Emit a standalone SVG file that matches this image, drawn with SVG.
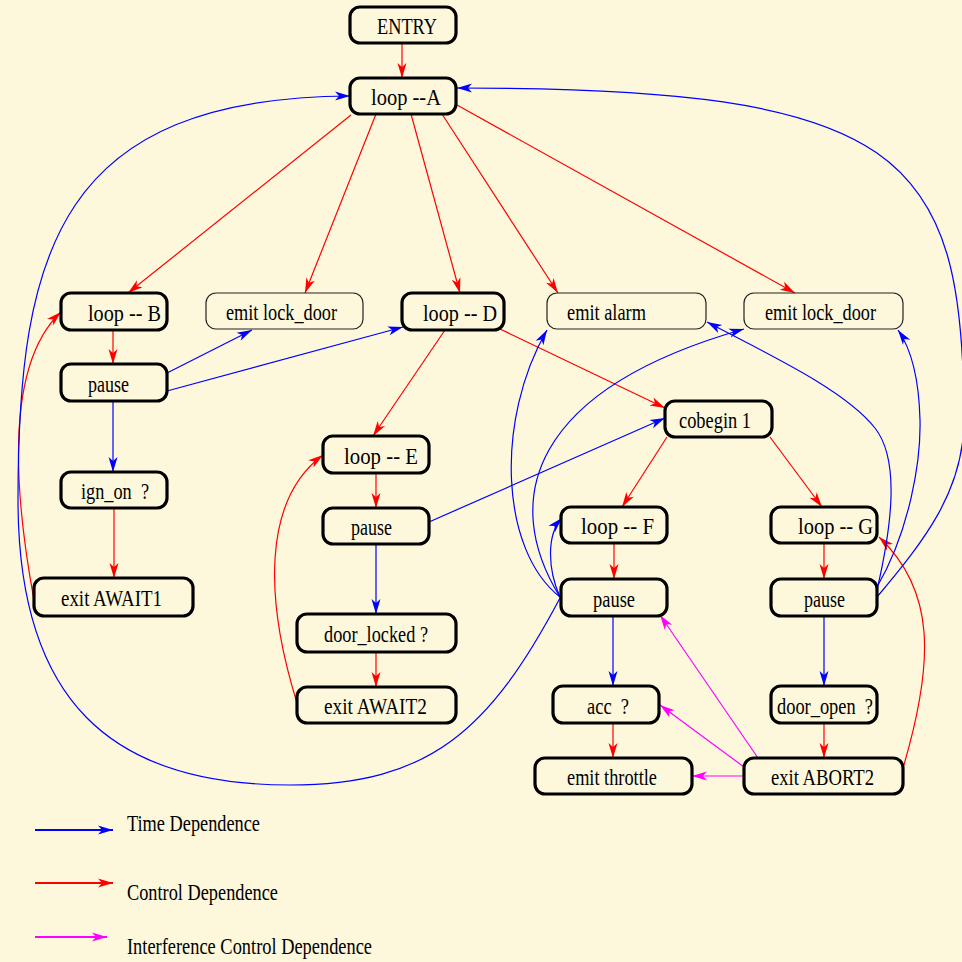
<svg xmlns="http://www.w3.org/2000/svg" width="962" height="962" viewBox="0 0 962 962">
  <style>
    .bg { fill: #fdf8dc; }
    .nd rect { fill: none; stroke: #000; stroke-width: 3.2; }
    .nd.thin rect { stroke: #222; stroke-width: 1.2; }
    text { font-family: "Liberation Serif", "Times New Roman", serif; font-size: 23px; fill: #000; }
    .nd text { text-anchor: middle; }
    .edge { fill: none; stroke-width: 1.2; }
    .time { stroke: #0000ff; marker-end: url(#ahTime); }
    .ctrl { stroke: #ff0000; marker-end: url(#ahCtrl); }
    .intf { stroke: #ff00ff; marker-end: url(#ahIntf); }
    .legend .edge { stroke-width: 1.8; }
  </style>
  <defs>
    <marker id="ahTime" viewBox="-16 -6 17 12" refX="0" refY="0" markerWidth="17" markerHeight="12" markerUnits="userSpaceOnUse" orient="auto">
      <path d="M-15,-4.5 L0,0 L-15,4.5 L-11,0 z" fill="#0000ff"/>
    </marker>
    <marker id="ahCtrl" viewBox="-16 -6 17 12" refX="0" refY="0" markerWidth="17" markerHeight="12" markerUnits="userSpaceOnUse" orient="auto">
      <path d="M-15,-4.5 L0,0 L-15,4.5 L-11,0 z" fill="#ff0000"/>
    </marker>
    <marker id="ahIntf" viewBox="-16 -6 17 12" refX="0" refY="0" markerWidth="17" markerHeight="12" markerUnits="userSpaceOnUse" orient="auto">
      <path d="M-15,-4.5 L0,0 L-15,4.5 L-11,0 z" fill="#ff00ff"/>
    </marker>
  </defs>

  <rect class="bg" x="0" y="0" width="962" height="962"/>

  <!-- connectors -->
  <g id="connectors">
    <!-- control dependence -->
    <path class="edge ctrl" d="M402,43 L402,78"/>
    <path class="edge ctrl" d="M351,115 L128,293"/>
    <path class="edge ctrl" d="M376,114 L305,293"/>
    <path class="edge ctrl" d="M411,114 L460,293"/>
    <path class="edge ctrl" d="M442,114 L558,293"/>
    <path class="edge ctrl" d="M457,105 L795,293"/>
    <path class="edge ctrl" d="M113,330 L113,364"/>
    <path class="edge ctrl" d="M114,508 L114,578"/>
    <path class="edge ctrl" d="M34,600 C10,470 10,360 61,312"/>
    <path class="edge ctrl" d="M445,330 L373,436"/>
    <path class="edge ctrl" d="M500,329 L665,408"/>
    <path class="edge ctrl" d="M376,473 L376,508"/>
    <path class="edge ctrl" d="M376,652 L376,687"/>
    <path class="edge ctrl" d="M297,703 C265,600 262,500 323,455"/>
    <path class="edge ctrl" d="M667,437 L622,507"/>
    <path class="edge ctrl" d="M770,437 L822,507"/>
    <path class="edge ctrl" d="M614,543 L614,579"/>
    <path class="edge ctrl" d="M613,723 L613,758"/>
    <path class="edge ctrl" d="M824,543 L824,579"/>
    <path class="edge ctrl" d="M824,723 L824,758"/>
    <path class="edge ctrl" d="M903,768 C935,660 935,590 879,537"/>

    <!-- time dependence -->
    <path class="edge time" d="M113,401 L113,472"/>
    <path class="edge time" d="M167,373 L252,330"/>
    <path class="edge time" d="M167,391 L403,327"/>
    <path class="edge time" d="M429,522 L665,418"/>
    <path class="edge time" d="M376,544 L376,614"/>
    <path class="edge time" d="M613,616 L613,686"/>
    <path class="edge time" d="M824,616 L824,686"/>
    <path class="edge time" d="M560,597 C548,570 546,535 562,518"/>
    <path class="edge time" d="M560,597 C500,550 495,420 547,330"/>
    <path class="edge time" d="M560,597 C500,500 530,390 744,329"/>
    <path class="edge time" d="M560,598 C490,730 430,785 290,785 C110,785 18,700 18,500 C18,250 60,98 350,96"/>
    <path class="edge time" d="M877,587 C910,530 921,460 920,420 C919,380 912,350 898,330"/>
    <path class="edge time" d="M877,590 C892,525 900,460 875,428 C845,390 770,355 707,322"/>
    <path class="edge time" d="M877,597 C925,540 964,490 964,420 C964,150 900,88 457,88"/>

    <!-- interference control dependence -->
    <path class="edge intf" d="M744,776 L692,776"/>
    <path class="edge intf" d="M744,767 L660,705"/>
    <path class="edge intf" d="M758,758 L660,615"/>
  </g>

  <!-- nodes -->
  <g id="n-entry" class="nd"><rect x="350" y="7" width="106" height="36" rx="10"/><text x="407" y="34" textLength="60" lengthAdjust="spacingAndGlyphs">ENTRY</text></g>
  <g id="n-loopA" class="nd"><rect x="350" y="78" width="106" height="36" rx="10"/><text x="406" y="105" textLength="70" lengthAdjust="spacingAndGlyphs">loop --A</text></g>
  <g id="n-loopB" class="nd"><rect x="61" y="293" width="106" height="37" rx="10"/><text x="124.5" y="320.5" textLength="73" lengthAdjust="spacingAndGlyphs">loop -- B</text></g>
  <g id="n-emitLock1" class="nd thin"><rect x="206" y="293" width="157" height="36" rx="10"/><text x="281.5" y="320" textLength="111" lengthAdjust="spacingAndGlyphs">emit lock_door</text></g>
  <g id="n-loopD" class="nd"><rect x="402" y="293" width="102" height="37" rx="10"/><text x="460" y="320.5" textLength="74" lengthAdjust="spacingAndGlyphs">loop -- D</text></g>
  <g id="n-emitAlarm" class="nd thin"><rect x="547" y="293" width="159" height="36" rx="10"/><text x="606.5" y="320" textLength="79" lengthAdjust="spacingAndGlyphs">emit alarm</text></g>
  <g id="n-emitLock2" class="nd thin"><rect x="744" y="293" width="159" height="36" rx="10"/><text x="820.5" y="320" textLength="111" lengthAdjust="spacingAndGlyphs">emit lock_door</text></g>
  <g id="n-pauseB" class="nd"><rect x="61" y="364" width="106" height="37" rx="10"/><text x="108.5" y="391.5" textLength="41" lengthAdjust="spacingAndGlyphs">pause</text></g>
  <g id="n-ignOn" class="nd"><rect x="61" y="472" width="106" height="36" rx="10"/><text x="115" y="499" textLength="68" lengthAdjust="spacingAndGlyphs" xml:space="preserve">ign_on  ?</text></g>
  <g id="n-exitAwait1" class="nd"><rect x="34" y="578" width="159" height="38" rx="10"/><text x="111.5" y="606" textLength="101" lengthAdjust="spacingAndGlyphs">exit AWAIT1</text></g>
  <g id="n-cobegin" class="nd"><rect x="665" y="401" width="107" height="36" rx="10"/><text x="715" y="428" textLength="72" lengthAdjust="spacingAndGlyphs">cobegin 1</text></g>
  <g id="n-loopE" class="nd"><rect x="323" y="436" width="106" height="37" rx="10"/><text x="381" y="463.5" textLength="74" lengthAdjust="spacingAndGlyphs">loop -- E</text></g>
  <g id="n-pauseE" class="nd"><rect x="323" y="508" width="106" height="36" rx="10"/><text x="371.5" y="535" textLength="41" lengthAdjust="spacingAndGlyphs">pause</text></g>
  <g id="n-doorLocked" class="nd"><rect x="297" y="614" width="159" height="38" rx="10"/><text x="376" y="642" textLength="104" lengthAdjust="spacingAndGlyphs">door_locked ?</text></g>
  <g id="n-exitAwait2" class="nd"><rect x="297" y="687" width="159" height="36" rx="10"/><text x="375.5" y="714" textLength="103" lengthAdjust="spacingAndGlyphs">exit AWAIT2</text></g>
  <g id="n-loopF" class="nd"><rect x="561" y="507" width="106" height="36" rx="10"/><text x="617.5" y="534" textLength="73" lengthAdjust="spacingAndGlyphs">loop -- F</text></g>
  <g id="n-loopG" class="nd"><rect x="771" y="507" width="106" height="36" rx="10"/><text x="835.5" y="534" textLength="75" lengthAdjust="spacingAndGlyphs">loop -- G</text></g>
  <g id="n-pauseF" class="nd"><rect x="561" y="579" width="106" height="37" rx="10"/><text x="614" y="606.5" textLength="42" lengthAdjust="spacingAndGlyphs">pause</text></g>
  <g id="n-pauseG" class="nd"><rect x="771" y="579" width="106" height="37" rx="10"/><text x="824.5" y="606.5" textLength="41" lengthAdjust="spacingAndGlyphs">pause</text></g>
  <g id="n-acc" class="nd"><rect x="553" y="686" width="106" height="37" rx="10"/><text x="608" y="713.5" textLength="42" lengthAdjust="spacingAndGlyphs" xml:space="preserve">acc  ?</text></g>
  <g id="n-doorOpen" class="nd"><rect x="771" y="686" width="106" height="37" rx="10"/><text x="825" y="713.5" textLength="96" lengthAdjust="spacingAndGlyphs" xml:space="preserve">door_open  ?</text></g>
  <g id="n-emitThrottle" class="nd"><rect x="535" y="758" width="157" height="36" rx="10"/><text x="612" y="785" textLength="90" lengthAdjust="spacingAndGlyphs">emit throttle</text></g>
  <g id="n-exitAbort2" class="nd"><rect x="744" y="758" width="159" height="36" rx="10"/><text x="822.5" y="785" textLength="103" lengthAdjust="spacingAndGlyphs">exit ABORT2</text></g>

  <!-- legend -->
  <g id="legend" class="legend">
    <path class="edge time" d="M35,830 L113,830"/>
    <text x="127" y="831" textLength="133" lengthAdjust="spacingAndGlyphs">Time Dependence</text>
    <path class="edge ctrl" d="M35,883 L113,883"/>
    <text x="127" y="900" textLength="151" lengthAdjust="spacingAndGlyphs">Control Dependence</text>
    <path class="edge intf" d="M35,937 L107,937"/>
    <text x="127" y="954" textLength="245" lengthAdjust="spacingAndGlyphs">Interference Control Dependence</text>
  </g>
</svg>
